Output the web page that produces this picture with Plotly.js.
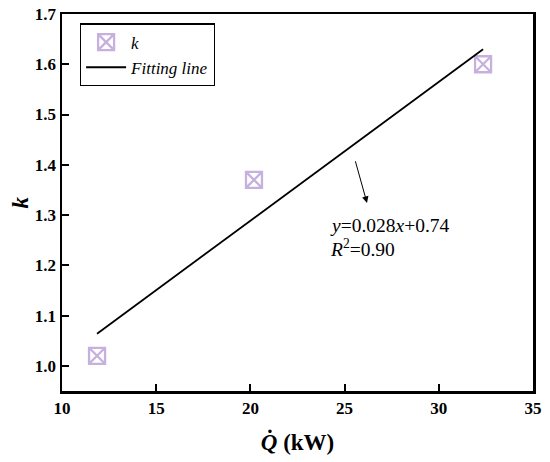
<!DOCTYPE html>
<html>
<head>
<meta charset="utf-8">
<script src="https://cdn.plot.ly/plotly-3.0.1.min.js"></script>
<style>html,body{margin:0;padding:0;background:#fff;}#chart{width:550px;height:462px;}</style>
</head>
<body>
<div id="chart"></div>
<script>
// Data
var heatRate = [11.86, 20.19, 32.35];      // Q-dot (kW)
var kValues  = [1.02, 1.37, 1.60];         // k
var fitX = [11.86, 32.35];                 // fitted line endpoints
var fitY = [1.064, 1.630];
var xTicks = [10, 15, 20, 25, 30, 35];
var yTicks = [1.0, 1.1, 1.2, 1.3, 1.4, 1.5, 1.6, 1.7];
var eqText = ['<i>y</i>=0.028<i>x</i>+0.74', '<i>R</i><sup>2</sup>=0.90'];
var yTitle = '<b><i>k</i></b>';

var serif = '"Liberation Serif"';
var mcol = '#c6b1de';

var traces = [
  {x: heatRate, y: kValues, mode: 'markers', name: '<i>k</i>',
   marker: {symbol: 'square-x-open', size: 16, color: mcol, line: {width: 2.3, color: mcol}}},
  {x: fitX, y: fitY, mode: 'lines', name: '<i>Fitting line</i>',
   line: {color: '#000', width: 1.8}}
];

var layout = {
  width: 550, height: 462,
  margin: {l: 62, r: 17, t: 14, b: 71},
  paper_bgcolor: '#fff', plot_bgcolor: '#fff',
  font: {family: serif, color: '#000'},
  showlegend: true,
  legend: {x: 0.038, y: 0.975, xanchor: 'left', yanchor: 'top',
           bordercolor: '#000', borderwidth: 1.2, bgcolor: '#fff',
           font: {family: serif, size: 17}, tracegroupgap: 0, itemwidth: 40},
  xaxis: {range: [10, 35], tickvals: xTicks, ticktext: xTicks.map(function(v){return '<b>' + v + '</b>';}),
          ticks: 'inside', ticklen: 7, tickwidth: 2, tickcolor: '#000',
          showline: true, linewidth: 2.5, linecolor: '#000', mirror: true,
          showgrid: false, zeroline: false,
          tickfont: {family: serif, size: 17, color: '#000'},
          title: {text: '<b><i>Q̇</i> (kW)</b>', font: {family: serif, size: 23}, standoff: 17}},
  yaxis: {range: [0.95, 1.7], tickvals: yTicks, ticktext: yTicks.map(function(v){return '<b>' + v.toFixed(1) + '</b>';}),
          ticks: 'inside', ticklen: 7, tickwidth: 2, tickcolor: '#000',
          showline: true, linewidth: 2.5, linecolor: '#000', mirror: true,
          showgrid: false, zeroline: false,
          tickfont: {family: serif, size: 17, color: '#000'}},
  annotations: [
    {x: 26.19, y: 1.324, ax: 25.55, ay: 1.41, xref: 'x', yref: 'y', axref: 'x', ayref: 'y',
     text: '', showarrow: true, arrowhead: 2, arrowsize: 1.3, arrowwidth: 1, arrowcolor: '#000'},
    {x: 24.1, y: 1.279, xref: 'x', yref: 'y', xanchor: 'left', yanchor: 'middle',
     text: eqText[0], showarrow: false, font: {family: serif, size: 19.5}},
    {x: 24.1, y: 1.235, xref: 'x', yref: 'y', xanchor: 'left', yanchor: 'middle',
     text: eqText[1], showarrow: false, font: {family: serif, size: 19.5}},
    {x: -0.089, y: 0.5, xref: 'paper', yref: 'paper', xanchor: 'center', yanchor: 'middle',
     text: yTitle, textangle: -90, showarrow: false, font: {family: serif, size: 23}}
  ]
};

Plotly.newPlot('chart', traces, layout, {displayModeBar: false, staticPlot: true});
</script>
</body>
</html>
